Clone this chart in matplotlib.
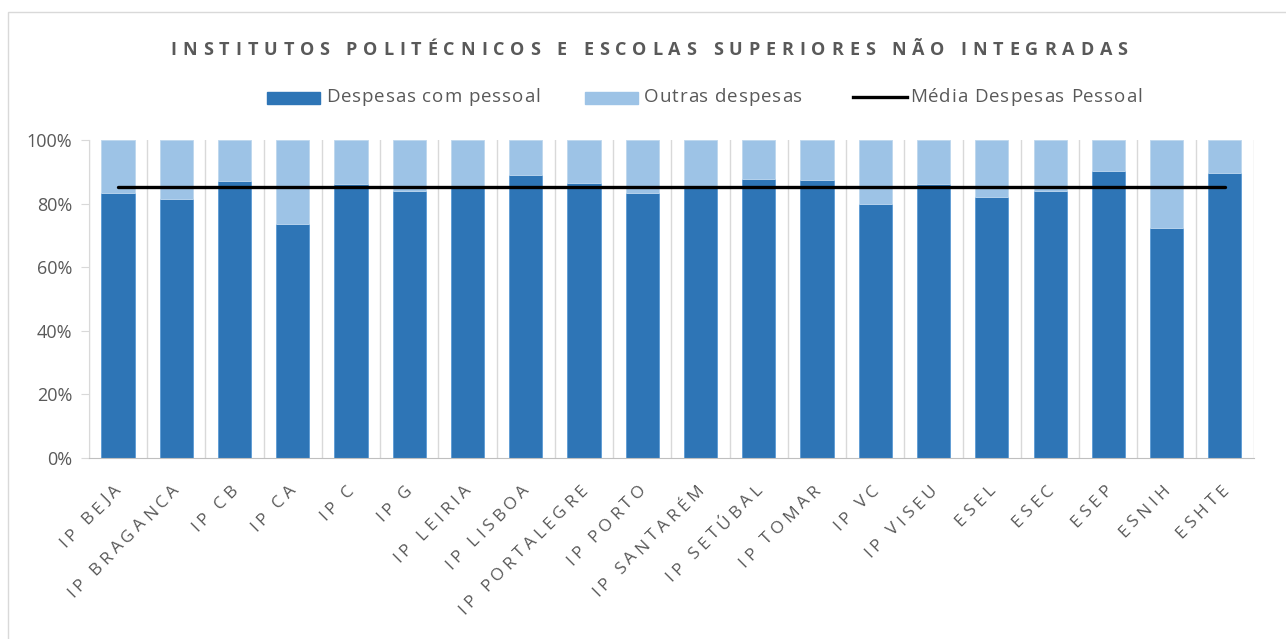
import matplotlib.pyplot as plt
import numpy as np
from matplotlib.font_manager import FontProperties
from matplotlib.patches import Rectangle
from matplotlib.lines import Line2D

categories = ['IP BEJA', 'IP BRAGANCA', 'IP CB', 'IP CA', 'IP C', 'IP G', 'IP LEIRIA',
              'IP LISBOA', 'IP PORTALEGRE', 'IP PORTO', 'IP SANTARÉM', 'IP SETÚBAL',
              'IP TOMAR', 'IP VC', 'IP VISEU', 'ESEL', 'ESEC', 'ESEP', 'ESNIH', 'ESHTE']
pessoal = [83.4, 81.5, 87.0, 73.7, 86.2, 83.9, 85.3, 89.0, 86.6, 83.4,
           85.5, 87.7, 87.3, 79.8, 86.2, 82.2, 83.9, 90.3, 72.4, 89.7]
outras = [100 - v for v in pessoal]
media = 85.1

title = 'INSTITUTOS POLITÉCNICOS E ESCOLAS SUPERIORES NÃO INTEGRADAS'
legend_labels = ['Despesas com pessoal', 'Outras despesas', 'Média Despesas Pessoal']

dark = '#2E75B6'
light = '#9DC3E6'
grey = '#595959'
W, H = 1286, 639

fig = plt.figure(figsize=(W / 100, H / 100), dpi=100)
ax = fig.add_axes([88.9 / W, 1 - 458 / H, (1254 - 88.9) / W, 318 / H])
renderer = fig.canvas.get_renderer()

x = np.arange(len(categories))
ax.bar(x, pessoal, width=0.57, color=dark, edgecolor='#5B9BD5', linewidth=0.6, zorder=2)
ax.bar(x, outras, bottom=pessoal, width=0.57, color=light, edgecolor='#BDD7EE', linewidth=0.6, zorder=2)
ax.plot([x[0], x[-1]], [media, media], color='black', lw=2.4, solid_capstyle='round', zorder=3)

ax.set_xlim(-0.5, len(categories) - 0.5)
ax.set_ylim(0, 100)
ax.set_yticks(np.arange(0, 101, 20))
ax.set_yticklabels([f'{v}%' for v in range(0, 101, 20)], fontsize=13, color=grey, family='Open Sans')
ax.tick_params(axis='y', length=6, color='#D9D9D9', pad=6)
ax.set_xticks(x)
ax.set_xticklabels([])
ax.tick_params(axis='x', length=0)
for b in np.arange(-0.5, len(categories), 1.0):
    ax.axvline(b, color='#D9D9D9', lw=1, zorder=1)
for s in ['top', 'right']:
    ax.spines[s].set_visible(False)
ax.spines['left'].set_color('#D9D9D9')
ax.spines['bottom'].set_color('#BFBFBF')


def spaced(px, py, s, prop, spacing, angle=0, align='center', color=grey):
    ref = renderer.get_text_width_height_descent('I', prop, ismath=False)[0]
    offs = []
    for i in range(len(s) + 1):
        w = renderer.get_text_width_height_descent(s[:i] + 'I', prop, ismath=False)[0] - ref
        offs.append(w + i * spacing)
    total = offs[-1] - spacing
    start = {'center': -total / 2, 'right': -total, 'left': 0}[align]
    c, sn = np.cos(np.radians(angle)), np.sin(np.radians(angle))
    for i, ch in enumerate(s):
        d = start + offs[i]
        fig.text((px + d * c) / W, (py + d * sn) / H, ch, fontproperties=prop, color=color,
                 rotation=angle, rotation_mode='anchor', ha='left', va='baseline')


# title
tprop = FontProperties(family='Open Sans', weight='bold', size=13)
spaced(649, H - 55, title, tprop, 5.9)

# x labels
lprop = FontProperties(family='Open Sans', size=12.5)
x0, dx = 118, (1225 - 118) / 19
for i, lab in enumerate(categories):
    spaced(x0 + i * dx + 4, H - 491, lab, lprop, 4.0, angle=45, align='right')

# legend
fprop = FontProperties(family='Open Sans', size=13.5)
fig.patches.append(Rectangle((267 / W, 1 - 104 / H), 53 / W, 12 / H, transform=fig.transFigure, color=dark))
fig.patches.append(Rectangle((585 / W, 1 - 104 / H), 53 / W, 12 / H, transform=fig.transFigure, color=light))
fig.lines.append(Line2D([853 / W, 907 / W], [1 - 97 / H, 1 - 97 / H], transform=fig.transFigure, color='black', lw=2.4))
for tx, lab in zip([326, 644, 910], legend_labels):
    spaced(tx, H - 102.5, lab, fprop, 0.9, align='left')

# chart border
fig.patches.append(Rectangle((8 / W, -0.05), 1.1, 1 - 12 / H + 0.05, transform=fig.transFigure,
                             fill=False, edgecolor='#D9D9D9', lw=1))

fig.savefig('out.png', dpi=100)
